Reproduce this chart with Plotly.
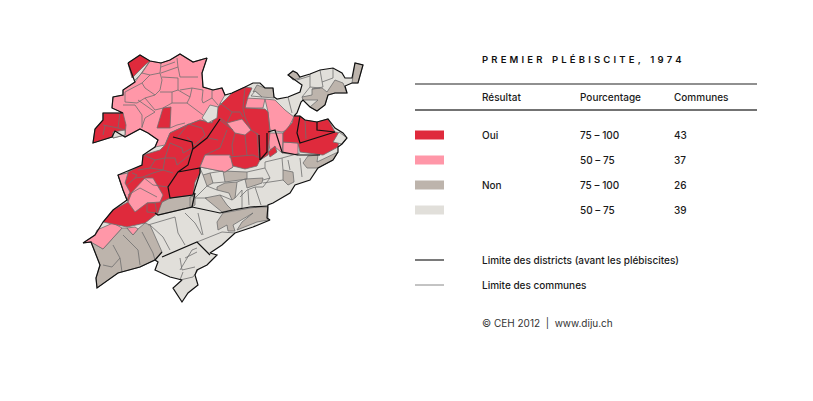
import plotly.graph_objects as go

RED = '#df2a3c'
PINK = '#ff97a8'
TAN = '#bdb4ac'
LIGHT = '#e1dfda'

# map geometry
OUTLINE = [(128,63),(140,55),(150,61),(161,63),(170,60),(180,54),(193,62),(207,58),(202,73),(203,87),(213,90),(222,88),(225,95),(232,93),(245,87),(253,83),(260,83),(265,88),(273,88),(274,97),(277,99),(288,97),(300,92),(302,85),(295,80),(288,75),(293,71),(297,73),(300,77),(310,74),(320,70),(333,68),(342,73),(345,78),(352,78),(355,63),(363,65),(358,83),(352,83),(345,86),(347,93),(335,93),(328,95),(325,105),(317,111),(310,107),(303,100),(301,102),(297,113),(294,116),(300,116),(305,120),(317,122),(328,119),(335,128),(343,133),(347,138),(342,144),(338,147),(338,152),(333,160),(318,168),(310,180),(295,185),(290,193),(273,203),(268,205),(267,218),(270,220),(253,227),(235,233),(222,245),(210,253),(217,255),(207,265),(197,270),(195,275),(198,285),(188,293),(182,302),(173,288),(182,280),(170,277),(155,270),(158,262),(155,260),(140,267),(118,273),(97,288),(96,278),(100,265),(91,242),(83,243),(95,235),(103,222),(113,210),(127,200),(123,190),(118,175),(128,171),(142,165),(143,155),(155,147),(158,140),(148,133),(140,129),(125,137),(115,131),(112,137),(93,143),(95,129),(103,120),(103,113),(123,113),(112,108),(113,97),(123,95),(123,90),(135,82),(133,77),(128,63)]

TAN_PATCHES = [
    [(253,92),(257,85),(265,88),(273,88),(274,98),(262,97),(255,91)],
    [(288,75),(293,71),(297,73),(300,78),(293,80)],
    [(312,89),(322,88),(327,92),(335,80),(343,83),(347,93),(335,93),(328,95),(325,105),(317,111),(310,107),(318,100),(303,100),(302,97),(312,95)],
    [(352,83),(355,63),(363,65),(358,83)],
    [(318,168),(307,168),(303,163),(308,156),(318,155),(317,162),(338,152),(333,160)],
    [(283,170),(293,172),(294,182),(288,185),(283,180)],
    [(245,179),(263,178),(262,183),(247,188)],
    [(223,171),(247,172),(247,179),(225,182)],
    [(203,175),(210,173),(213,183),(207,186)],
    [(217,187),(225,183),(237,182),(235,198),(232,200),(229,193),(217,190)],
    [(205,198),(220,195),(227,205),(232,210),(222,212)],
    [(217,222),(223,213),(250,208),(258,207),(268,207),(268,220),(257,222),(237,230),(242,222),(253,213),(233,225),(235,231),(228,231),(227,225),(218,230)],
    [(190,197),(195,196),(195,205),(190,208)],
    [(195,193),(192,207),(158,215),(155,213),(162,202),(170,198)],
    [(103,249),(122,228),(127,228),(133,235),(138,229),(145,223),(150,225),(162,252),(155,260),(140,267),(118,273),(97,288),(96,278),(100,265),(91,242)],
]
PINK_PATCHES = [
    [(135,82),(150,61),(161,63),(170,60),(180,54),(193,62),(207,58),(202,73),(203,87),(213,90),(222,88),(225,95),(218,107),(212,123),(200,120),(187,125),(170,133),(165,145),(155,147),(158,140),(148,133),(140,129),(125,137),(123,113),(112,108),(113,97),(123,95),(123,90)],
    [(118,175),(128,173),(125,183),(130,192),(127,200),(123,190)],
    [(132,192),(145,178),(153,178),(163,195),(160,202),(147,203),(135,212),(128,202)],
    [(97,230),(113,223),(122,228),(103,249),(91,242),(83,243),(95,235)],
    [(127,228),(135,227),(138,229),(133,235)],
    [(205,155),(230,155),(233,167),(225,172),(200,167)],
    [(227,123),(242,119),(251,130),(245,135),(235,133)],
    [(245,98),(265,99),(263,108),(245,108)],
    [(265,99),(275,100),(285,110),(294,117),(287,130),(282,132),(270,130),(268,112)],
    [(267,133),(283,133),(283,153),(281,152),(275,147),(270,150)],
    [(283,142),(298,143),(298,155),(282,153)],
]
RED_PATCHES = [
    [(128,63),(140,55),(150,61),(145,65),(137,73),(132,78)],
    [(163,108),(171,107),(170,128),(157,128)],
    [(103,113),(123,113),(126,125),(125,135),(113,138),(112,137),(93,143),(95,129),(103,120)],
    [(128,172),(142,165),(143,155),(160,150),(165,145),(170,133),(187,125),(200,120),(212,123),(218,107),(232,93),(245,87),(252,88),(248,97),(245,108),(265,109),(268,112),(270,132),(268,155),(260,160),(257,166),(245,169),(233,166),(229,157),(205,155),(200,167),(200,173),(195,182),(193,195),(170,198),(162,202),(158,213),(145,223),(135,225),(127,227),(103,222),(113,210),(128,202),(125,183)],
    [(294,116),(300,116),(305,120),(317,122),(328,119),(335,132),(340,133),(338,147),(323,155),(300,152),(298,143),(283,142),(283,133),(292,123)],
]
PINK_OVER = [
    [(227,123),(242,119),(251,130),(245,135),(235,133)],
    [(132,192),(145,178),(153,178),(163,195),(160,202),(147,203),(135,212),(128,202)],
    [(118,175),(128,173),(125,183),(130,192),(127,200),(123,190)],
    [(205,155),(230,155),(233,167),(225,172),(200,167)],
]
RED_OVER = [
    [(147,203),(155,203),(157,213),(147,212)],
    [(268,152),(275,146),(277,152),(270,157)],
]
LIGHT_OVER = [
    [(202,118),(210,105),(218,107),(217,118),(208,123)],
    [(113,132),(125,130),(125,135),(113,138)],
    [(251,96),(255,91),(262,97)],
    [(333,142),(339,132),(347,138),(342,144)],
]
COMMUNE_LINES = [
    [(150,61),(142,73),(135,80)],
    [(142,73),(150,75),(160,73),(161,63)],
    [(161,73),(178,67),(177,58)],
    [(161,67),(175,62)],
    [(178,67),(180,77),(198,77)],
    [(160,73),(162,80),(160,90),(155,95),(145,88),(142,83),(150,75)],
    [(162,77),(178,78),(178,90),(172,92),(160,92)],
    [(142,83),(125,92),(125,102),(137,103),(145,98),(155,95)],
    [(123,105),(135,105),(142,115),(142,128)],
    [(138,100),(155,112),(145,118),(142,127)],
    [(145,98),(155,110),(163,108),(172,103),(172,92)],
    [(172,103),(187,103),(190,97),(178,90)],
    [(187,103),(203,115)],
    [(170,128),(177,125),(185,123)],
    [(190,97),(192,88),(203,90),(202,100),(203,103)],
    [(180,90),(192,88)],
    [(203,103),(212,98),(218,105)],
    [(212,90),(212,98)],
    [(120,113),(118,128),(125,130)],
    [(103,125),(118,128)],
    [(105,126),(103,135)],
    [(188,124),(202,128),(205,135),(195,145),(187,137)],
    [(178,137),(188,124)],
    [(170,143),(182,148),(183,153),(192,148)],
    [(165,158),(175,158),(177,165),(183,160),(192,153)],
    [(143,155),(155,160),(165,158),(170,143)],
    [(150,168),(155,160)],
    [(138,170),(150,168),(163,170),(173,173)],
    [(163,170),(165,158)],
    [(132,173),(137,175),(135,178),(127,185)],
    [(143,177),(153,173),(163,170)],
    [(135,178),(143,177),(153,185)],
    [(153,185),(165,187),(168,187)],
    [(128,195),(140,188),(157,197)],
    [(220,103),(232,112),(240,112),(243,117)],
    [(245,87),(243,108),(245,117)],
    [(220,118),(227,123)],
    [(232,112),(227,123)],
    [(245,117),(251,130),(259,135)],
    [(235,133),(232,145),(233,155)],
    [(245,135),(247,155)],
    [(257,133),(259,157)],
    [(229,157),(253,155),(260,158)],
    [(227,130),(220,148),(205,155)],
    [(218,140),(208,138)],
    [(220,120),(233,130)],
    [(305,120),(306,139)],
    [(310,74),(310,87),(302,97)],
    [(297,80),(310,76)],
    [(320,70),(322,82),(323,87),(312,89)],
    [(333,68),(333,78),(322,82)],
    [(310,87),(320,88)],
    [(288,97),(292,113)],
    [(247,172),(265,168),(270,178),(263,180)],
    [(265,168),(265,162),(282,158),(300,153)],
    [(270,178),(263,187),(255,187),(247,190),(240,197)],
    [(282,158),(283,170)],
    [(288,160),(290,170)],
    [(300,158),(302,177)],
    [(248,190),(249,205)],
    [(255,187),(261,205)],
    [(242,190),(242,208),(232,210)],
    [(207,186),(195,198),(207,198)],
    [(198,213),(203,235)],
    [(150,225),(163,237),(170,250)],
    [(175,217),(178,233),(185,245)],
    [(185,213),(195,223),(202,235)],
    [(148,225),(175,217)],
    [(113,245),(120,258),(122,272)],
    [(123,235),(138,250),(140,265)],
    [(142,232),(153,253),(155,260)],
    [(103,265),(112,267),(120,258)],
    [(180,270),(192,250),(197,248)],
    [(180,258),(182,270),(195,267)],
    [(183,272),(180,280),(193,277),(198,270)],
    [(185,258),(197,252)],
    [(197,242),(222,232),(235,233)],
    [(200,168),(203,175)],
    [(210,173),(223,171)],
    [(213,183),(225,182)],
    [(207,186),(217,190)],
    [(237,182),(245,179)],
    [(263,183),(283,180)],
    [(232,200),(220,195)],
    [(235,198),(242,190)],
]
DISTRICT_LINES = [
    [(173,137),(192,142),(193,148),(188,165),(178,172),(168,187),(170,198),(193,195),(200,173),(200,168),(178,172)],
    [(220,119),(207,138),(193,149)],
    [(192,207),(220,213),(233,210),(250,207),(268,206)],
    [(162,257),(197,242),(210,255)],
    [(259,135),(260,160)],
    [(267,133),(267,152),(260,160)],
    [(268,132),(275,130),(282,152),(298,155),(320,155)],
    [(300,116),(297,133),(300,143),(317,138),(335,132)],
    [(317,122),(317,130),(335,132)],
    [(155,213),(158,215),(192,207),(195,193)],
    [(155,260),(162,252)],
]

TITLE = 'PREMIER PLÉBISCITE, 1974'
HEADERS = ['Résultat', 'Pourcentage', 'Communes']
RESULTS = ['Oui', '', 'Non', '']
PERCENTS = ['75 – 100', '50 – 75', '75 – 100', '50 – 75']
COUNTS = ['43', '37', '26', '39']
SWATCHES = [RED, PINK, TAN, LIGHT]
LINE_LABELS = ['Limite des districts (avant les plébiscites)', 'Limite des communes']
CREDIT = '© CEH 2012  |  www.diju.ch'

ROW_Y = [135, 160, 185, 210]
FONT = 'Inter'


def polygon_trace(polys, color, edge='#6e6e6e', width=0.8):
    xs, ys = [], []
    for poly in polys:
        xs += [p[0] for p in poly] + [poly[0][0], None]
        ys += [p[1] for p in poly] + [poly[0][1], None]
    return go.Scatter(x=xs, y=ys, mode='lines', fill='toself', fillcolor=color,
                      line=dict(color=edge, width=width), hoverinfo='skip', showlegend=False)


def line_trace(lines, color, width):
    xs, ys = [], []
    for ln in lines:
        xs += [p[0] for p in ln] + [None]
        ys += [p[1] for p in ln] + [None]
    return go.Scatter(x=xs, y=ys, mode='lines', line=dict(color=color, width=width),
                      hoverinfo='skip', showlegend=False)


def add_text(fig, x, y, text, size=10, color='#1a1a1a', weight=500):
    # annotations carry 2px of padding, so pull them back onto x
    fig.add_annotation(x=x - 2, y=y, text=text, showarrow=False, xanchor='left', yanchor='middle',
                       font=dict(family=FONT, size=size, color=color, weight=weight))


fig = go.Figure()
fig.add_trace(polygon_trace([OUTLINE], LIGHT, edge=LIGHT, width=0))
fig.add_trace(polygon_trace(TAN_PATCHES, TAN))
fig.add_trace(polygon_trace(PINK_PATCHES, PINK))
fig.add_trace(polygon_trace(RED_PATCHES, RED))
fig.add_trace(polygon_trace(PINK_OVER, PINK))
fig.add_trace(polygon_trace(RED_OVER, RED))
fig.add_trace(polygon_trace(LIGHT_OVER, LIGHT))
fig.add_trace(line_trace(COMMUNE_LINES, '#6e6e6e', 0.8))
fig.add_trace(line_trace(DISTRICT_LINES, '#111111', 1.2))
fig.add_trace(line_trace([OUTLINE], '#111111', 1.2))

# table rules
fig.add_trace(line_trace([[(415, 84), (757, 84)]], '#222222', 1.2))
fig.add_trace(line_trace([[(415, 110), (757, 110)]], '#444444', 1.5))
fig.add_trace(line_trace([[(415, 260), (444, 260)]], '#222222', 1.2))
fig.add_trace(line_trace([[(415, 285), (444, 285)]], '#888888', 1))

for y, color in zip(ROW_Y, SWATCHES):
    fig.add_shape(type='rect', x0=415, x1=444, y0=y - 4.5, y1=y + 4.5, fillcolor=color, line_width=0)

# no letter spacing in plotly, so the title is spread with three-per-em spaces
add_text(fig, 482, 59, '\u2004'.join(TITLE).replace('\u2004 \u2004', '\u2003'), size=9.5, color='#111111', weight=600)
for x, h in zip([482, 580, 674], HEADERS):
    add_text(fig, x, 97, h)
for y, res, pct, cnt in zip(ROW_Y, RESULTS, PERCENTS, COUNTS):
    if res:
        add_text(fig, 482, y, res)
    add_text(fig, 580, y, pct)
    add_text(fig, 674, y, cnt)
add_text(fig, 482, 260, LINE_LABELS[0])
add_text(fig, 482, 285, LINE_LABELS[1])
add_text(fig, 482, 323, CREDIT, color='#333333', weight=400)

fig.update_layout(
    width=813, height=401, margin=dict(l=0, r=0, t=0, b=0),
    paper_bgcolor='white', plot_bgcolor='white', showlegend=False,
    xaxis=dict(range=[0, 813], visible=False, fixedrange=True),
    yaxis=dict(range=[401, 0], visible=False, fixedrange=True),
)
fig.write_html("out.html", config={'displayModeBar': False},
               post_script="document.body.style.margin='0';document.body.style.overflow='hidden';")
